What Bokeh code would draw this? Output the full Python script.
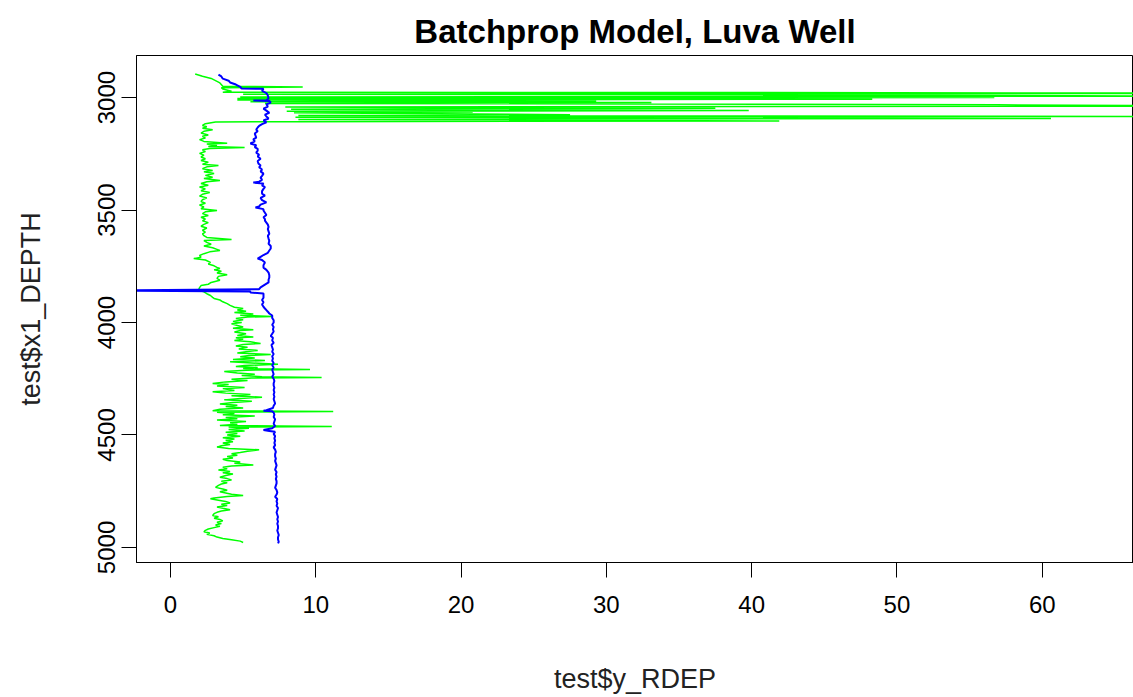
from bokeh.plotting import figure
from bokeh.models import Range1d, FixedTicker, Title
from bokeh.embed import file_html
from bokeh.resources import INLINE

# ---- data ----
green_depth = [2895, 2905, 2915, 2935, 2950, 2953, 2956, 2962, 2972, 2976, 2978, 2981, 2985,
               2990, 2994, 2997, 3000, 3004, 3007, 3011, 3016, 3019, 3022, 3026, 3032, 3038,
               3042, 3048, 3052, 3058, 3061, 3064, 3068, 3076, 3080, 3084, 3088, 3093, 3097,
               3104, 3107, 3109, 3116, 3124, 3130, 3136, 3143, 3150, 3158, 3166, 3172, 3180,
               3187, 3195, 3203, 3207, 3213, 3218, 3222, 3226, 3232, 3240, 3248, 3256, 3264,
               3272, 3280, 3288, 3296, 3302, 3308, 3316, 3324, 3330, 3338, 3346, 3354, 3360,
               3369, 3374, 3382, 3390, 3398, 3406, 3414, 3422, 3430, 3438, 3446, 3454, 3462,
               3470, 3478, 3486, 3494, 3502, 3508, 3516, 3524, 3532, 3540, 3548, 3556, 3564,
               3572, 3580, 3590, 3598, 3606, 3614, 3622, 3631, 3636, 3644, 3652, 3660, 3668,
               3675, 3680, 3686, 3694, 3702, 3710, 3716, 3722, 3733, 3740, 3748, 3755, 3760,
               3766, 3772, 3780, 3788, 3795, 3804, 3812, 3822, 3830, 3836, 3845, 3852, 3858,
               3864, 3872, 3880, 3888, 3893, 3900, 3908, 3916, 3924, 3932, 3938, 3944, 3950,
               3956, 3962, 3968, 3973, 3976, 3982, 3988, 3995, 4000, 4006, 4013, 4020, 4026,
               4032, 4036, 4042, 4050, 4058, 4064, 4068, 4074, 4080, 4086, 4093, 4098, 4104,
               4110, 4118, 4124, 4130, 4136, 4142, 4147, 4152, 4158, 4164, 4169, 4175, 4180,
               4186, 4191, 4196, 4200, 4205, 4209, 4212, 4218, 4224, 4230, 4236, 4241, 4244,
               4247, 4252, 4258, 4264, 4271, 4276, 4282, 4289, 4294, 4302, 4308, 4314, 4320,
               4326, 4332, 4338, 4344, 4350, 4356, 4362, 4368, 4374, 4380, 4386, 4392, 4396,
               4399, 4405, 4410, 4416, 4422, 4428, 4434, 4440, 4446, 4452, 4458, 4462, 4465,
               4470, 4476, 4482, 4488, 4494, 4500, 4506, 4512, 4518, 4524, 4530, 4536, 4542,
               4548, 4554, 4560, 4566, 4572, 4578, 4584, 4590, 4596, 4602, 4608, 4614, 4620,
               4626, 4633, 4638, 4644, 4650, 4656, 4662, 4668, 4674, 4680, 4688, 4694, 4700,
               4706, 4712, 4718, 4724, 4733, 4740, 4746, 4752, 4758, 4764, 4769, 4774, 4780,
               4784, 4790, 4796, 4802, 4808, 4814, 4820, 4826, 4832, 4838, 4844, 4850, 4858,
               4864, 4870, 4876, 4882, 4888, 4894, 4900, 4906, 4912, 4918, 4924, 4930, 4936,
               4942, 4948, 4954, 4960, 4966, 4972, 4978]
green_rdep = [1.7, 2.2, 2.8, 3.4, 3.6, 9.1, 3.5, 3.6, 4.2, 3.6, 40.8, 75.0, 5.0,
              52.7, 72.0, 4.8, 56.7, 4.6, 48.3, 4.6, 29.3, 5.5, 33.1, 6.5, 56.9, 72.0,
              7.9, 37.5, 8.3, 39.8, 8.0, 20.8, 8.5, 27.5, 8.8, 66.3, 8.6, 60.6, 8.8,
              41.9, 8.8, 3.1, 2.4, 2.2, 2.5, 2.2, 2.9, 2.3, 2.1, 2.6, 2.2, 2.4,
              2.0, 2.3, 3.9, 2.5, 3.2, 2.6, 5.1, 2.7, 2.2, 2.4, 2.0, 2.3, 2.1,
              2.4, 2.1, 2.6, 2.2, 3.3, 2.5, 2.2, 2.9, 2.3, 3.0, 2.4, 2.9, 2.3,
              3.4, 2.5, 2.1, 2.6, 2.0, 2.4, 2.1, 2.7, 2.2, 2.0, 2.5, 2.2, 2.1,
              2.4, 2.0, 2.3, 2.1, 3.2, 2.4, 2.2, 2.6, 2.1, 2.4, 2.2, 2.6, 2.3,
              2.1, 2.5, 2.2, 2.4, 2.2, 2.3, 2.5, 4.2, 2.3, 2.5, 2.8, 2.3, 2.9,
              3.2, 3.4, 2.7, 2.3, 2.0, 2.1, 1.6, 2.4, 2.75, 2.6, 3.0, 3.2, 3.4,
              3.0, 3.5, 3.2, 3.9, 3.3, 3.2, 3.4, 2.8, 2.6, 2.1, 2.0, 1.95, 2.0,
              2.3, 2.5, 2.75, 2.9, 3.0, 3.4, 3.6, 3.9, 4.1, 4.4, 5.0, 4.6, 5.2,
              4.4, 5.7, 4.8, 7.0, 5.3, 4.5, 5.0, 4.3, 4.9, 4.2, 4.6, 5.0, 4.3,
              5.7, 4.8, 4.4, 5.2, 4.6, 5.7, 4.5, 5.0, 4.4, 5.5, 6.2, 5.0, 4.5,
              5.3, 4.7, 6.0, 5.2, 4.6, 6.9, 5.4, 4.8, 5.8, 4.3, 6.5, 4.1, 5.6,
              7.4, 5.1, 4.5, 6.0, 5.0, 9.6, 5.2, 3.7, 4.6, 5.8, 4.9, 6.3, 10.4,
              5.6, 4.2, 5.3, 3.8, 2.9, 4.0, 3.2, 5.1, 3.6, 4.4, 2.9, 3.8, 5.5,
              4.2, 6.3, 4.8, 3.7, 5.6, 4.3, 3.4, 4.6, 3.8, 5.0, 3.4, 2.9, 11.2,
              3.2, 4.4, 3.6, 5.8, 3.8, 4.6, 3.2, 5.2, 4.1, 4.6, 3.4, 11.1, 4.0,
              5.4, 4.0, 5.1, 3.8, 4.6, 3.9, 4.8, 3.6, 4.4, 3.8, 4.3, 3.6, 4.1,
              3.5, 3.2, 4.0, 6.1, 5.3, 4.8, 4.2, 4.6, 3.9, 4.3, 3.6, 3.9, 4.8,
              4.4, 5.7, 4.2, 3.6, 3.9, 3.3, 4.1, 3.6, 4.3, 3.8, 3.4, 3.9, 4.2,
              3.5, 3.9, 3.5, 3.3, 3.1, 3.6, 3.9, 3.4, 3.8, 4.2, 5.0, 3.9, 3.0,
              2.75, 3.3, 3.8, 4.1, 3.5, 3.9, 3.2, 3.6, 4.1, 3.5, 3.2, 3.0, 2.9,
              3.3, 3.0, 3.4, 3.6, 3.2, 3.5, 3.1, 3.4, 3.0, 2.6, 2.4, 2.3, 2.7,
              2.5, 3.0, 3.2, 3.6, 4.2, 4.8, 5.0]

blue_depth = [2898, 2906, 2916, 2925, 2933, 2942, 2952, 2960, 2961, 2970, 2980, 2991, 3004,
              3012, 3013, 3015, 3022, 3030, 3040, 3049, 3058, 3068, 3076, 3084, 3093, 3102,
              3110, 3118, 3126, 3133, 3142, 3150, 3160, 3169, 3178, 3186, 3195, 3204, 3212,
              3220, 3228, 3236, 3245, 3254, 3262, 3272, 3282, 3293, 3302, 3310, 3320, 3328,
              3338, 3348, 3356, 3366, 3374, 3378, 3382, 3390, 3398, 3406, 3416, 3427, 3436,
              3446, 3456, 3466, 3476, 3484, 3489, 3496, 3502, 3512, 3522, 3532, 3540, 3547,
              3556, 3565, 3575, 3585, 3595, 3605, 3615, 3627, 3637, 3650, 3660, 3671, 3680,
              3690, 3700, 3708, 3716, 3722, 3733, 3745, 3756, 3766, 3778, 3790, 3800, 3810,
              3822, 3832, 3844, 3852, 3857, 3859, 3862, 3867, 3871, 3880, 3890, 3900, 3910,
              3920, 3930, 3938, 3945, 3952, 3960, 3969, 3980, 3990, 4000, 4010, 4020, 4030,
              4040, 4050, 4060, 4068, 4080, 4090, 4100, 4110, 4120, 4130, 4140, 4150, 4160,
              4170, 4180, 4190, 4200, 4210, 4220, 4230, 4240, 4250, 4260, 4270, 4280, 4290,
              4300, 4310, 4320, 4330, 4340, 4350, 4360, 4370, 4380, 4390, 4392, 4395, 4400,
              4410, 4420, 4430, 4440, 4450, 4460, 4470, 4478, 4482, 4486, 4495, 4505, 4515,
              4525, 4535, 4545, 4555, 4565, 4575, 4585, 4595, 4605, 4615, 4625, 4635, 4645,
              4655, 4665, 4675, 4685, 4695, 4705, 4715, 4725, 4735, 4745, 4755, 4765, 4775,
              4785, 4795, 4805, 4815, 4825, 4835, 4845, 4855, 4865, 4875, 4885, 4895, 4905,
              4915, 4925, 4935, 4945, 4955, 4965, 4975, 4982]
blue_rdep = [3.3, 3.5, 3.6, 4.0, 4.1, 4.5, 4.8, 4.9, 6.4, 6.3, 6.6, 6.7, 6.75,
             6.6, 5.7, 6.8, 6.9, 6.6, 6.7, 6.4, 6.6, 6.8, 6.5, 6.6, 6.75, 6.4,
             6.6, 6.3, 6.1, 6.0, 5.9, 6.0, 5.8, 5.85, 5.9, 5.7, 5.8, 5.5, 5.9,
             5.8, 6.0, 6.0, 5.9, 6.1, 6.0, 6.2, 6.0, 6.05, 6.2, 6.1, 6.3, 6.2,
             6.4, 6.3, 6.2, 6.3, 6.1, 5.7, 6.4, 6.3, 6.5, 6.4, 6.3, 6.3, 6.5,
             6.2, 6.3, 6.6, 6.2, 6.1, 5.85, 6.4, 6.4, 6.5, 6.6, 6.4, 6.5, 6.5,
             6.6, 6.7, 6.75, 6.7, 6.75, 6.8, 6.7, 6.75, 6.8, 6.75, 6.9, 6.9, 6.8,
             6.7, 6.4, 6.2, 6.0, 6.3, 6.5, 6.4, 6.4, 6.6, 6.75, 6.8, 6.8, 6.75,
             6.75, 6.5, 6.2, 6.1, -2.5, -2.5, 5.5, 5.5, 6.4, 6.4, 6.4, 6.3, 6.4,
             6.3, 6.4, 6.5, 6.6, 6.7, 6.8, 7.0, 7.0, 7.1, 7.1, 7.0, 7.1, 7.05,
             7.1, 7.0, 6.9, 7.05, 7.0, 7.1, 6.95, 7.0, 7.05, 7.0, 7.1, 7.0, 7.05,
             7.0, 7.1, 7.0, 7.1, 7.0, 7.05, 7.1, 7.0, 7.1, 7.15, 7.1, 7.1, 7.15,
             7.1, 7.15, 7.1, 7.15, 7.1, 7.15, 7.2, 7.1, 7.05, 6.6, 6.4, 7.0, 7.1,
             7.15, 7.1, 7.2, 7.15, 7.1, 7.2, 7.0, 6.4, 6.8, 7.2, 7.1, 7.2, 7.15,
             7.2, 7.15, 7.2, 7.1, 7.2, 7.25, 7.2, 7.2, 7.25, 7.2, 7.25, 7.3, 7.25,
             7.2, 7.3, 7.25, 7.3, 7.25, 7.3, 7.3, 7.25, 7.2, 7.3, 7.35, 7.3, 7.2,
             7.35, 7.3, 7.35, 7.3, 7.4, 7.35, 7.3, 7.35, 7.4, 7.35, 7.4, 7.35, 7.4,
             7.4, 7.35, 7.4, 7.45, 7.4, 7.4, 7.45, 7.4]

x_ticks = [0, 10, 20, 30, 40, 50, 60]
y_ticks = [3000, 3500, 4000, 4500, 5000]
title_text = "Batchprop Model, Luva Well"
x_label = "test$y_RDEP"
y_label = "test$x1_DEPTH"

FONT = "Liberation Sans"

p = figure(width=1133, height=697,
           x_range=Range1d(-2.34, 66.28), y_range=Range1d(5067, 2813),
           output_backend="svg", toolbar_location=None,
           min_border_left=136, min_border_right=0,
           min_border_top=55, min_border_bottom=135)

p.title = Title(text=title_text, align="center", vertical_align="top",
                text_font=FONT, text_font_size="33px", text_font_style="bold",
                text_color="black", standoff=7)

p.xgrid.visible = False
p.ygrid.visible = False
p.background_fill_color = "white"
p.border_fill_color = "white"
p.outline_line_color = "black"
p.outline_line_width = 1

p.line(green_rdep, green_depth, line_color="#00FF00", line_width=1.5)
p.line(blue_rdep, blue_depth, line_color="#0000FF", line_width=2)

for ax in (p.xaxis[0], p.yaxis[0]):
    ax.axis_line_color = "black"
    ax.major_tick_line_color = "black"
    ax.major_tick_out = 15
    ax.major_tick_in = 0
    ax.minor_tick_line_color = None
    ax.major_label_text_font = FONT
    ax.major_label_text_font_size = "24px"
    ax.major_label_text_color = "black"
    ax.axis_label_text_font = FONT
    ax.axis_label_text_font_size = "27px"
    ax.axis_label_text_font_style = "normal"
    ax.axis_label_text_color = "#222222"

p.xaxis[0].ticker = FixedTicker(ticks=x_ticks)
p.yaxis[0].ticker = FixedTicker(ticks=y_ticks)
p.xaxis[0].axis_label = x_label
p.yaxis[0].axis_label = y_label
p.xaxis[0].major_label_standoff = 18
p.xaxis[0].axis_label_standoff = 48
p.yaxis[0].major_label_orientation = "vertical"
p.yaxis[0].major_label_standoff = 6
p.yaxis[0].axis_label_standoff = 50

open("out.html", "w").write(file_html(p, INLINE))
